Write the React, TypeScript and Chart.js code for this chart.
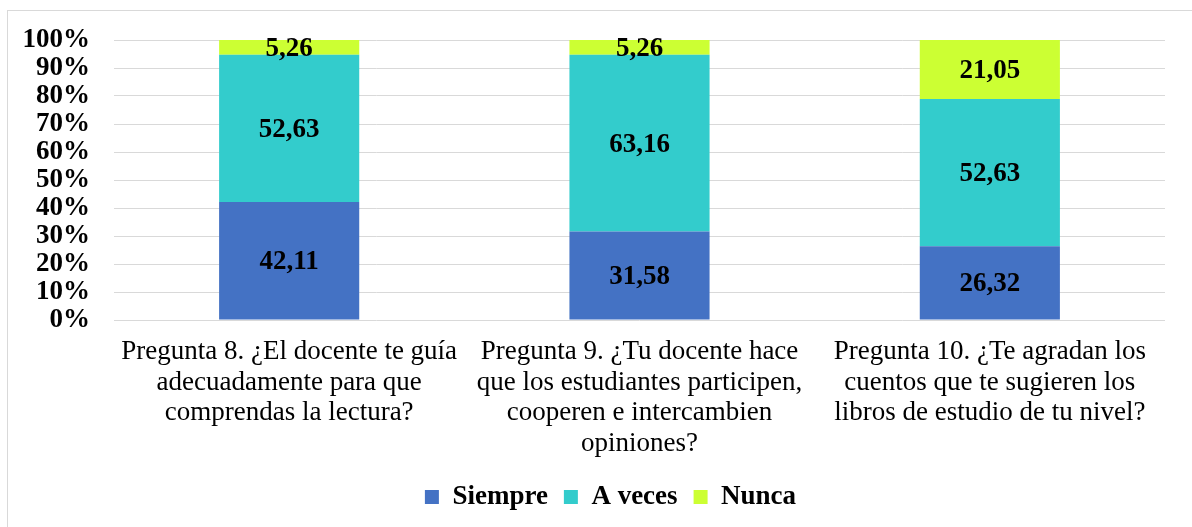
import React, { useEffect, useRef } from "react";
import { Chart, registerables } from "chart.js";

Chart.register(...registerables);

const categories: string[][] = [
  ["Pregunta 8. ¿El docente te guía", "adecuadamente para que", "comprendas la lectura?"],
  ["Pregunta 9. ¿Tu docente hace", "que los estudiantes participen,", "cooperen e intercambien", "opiniones?"],
  ["Pregunta 10. ¿Te agradan los", "cuentos que te sugieren los", "libros de estudio de tu nivel?"],
];
const siempre = [42.11, 31.58, 26.32];
const aVeces = [52.63, 63.16, 52.63];
const nunca = [5.26, 5.26, 21.05];
const seriesNames = ["Siempre", "A veces", "Nunca"];
const seriesColors = ["#4472C4", "#33CCCC", "#CCFF33"];

const FONT = "'Liberation Serif', 'Times New Roman', serif";

const valueLabels = {
  id: "valueLabels",
  afterDatasetsDraw(chart: any) {
    const ctx = chart.ctx;
    ctx.save();
    ctx.font = `bold 27px ${FONT}`;
    ctx.fillStyle = "#000";
    ctx.textAlign = "center";
    ctx.textBaseline = "middle";
    chart.data.datasets.forEach((ds: any, i: number) => {
      const meta = chart.getDatasetMeta(i);
      meta.data.forEach((bar: any, j: number) => {
        const v = ds.data[j] as number;
        const cy = (bar.y + bar.base) / 2;
        ctx.fillText(v.toFixed(2).replace(".", ","), bar.x, cy + 1.5);
      });
    });
    ctx.restore();
  },
};

// shift the legend so it is centred on the whole (wider) chart frame
const legendShift = {
  id: "legendShift",
  afterLayout(chart: any) {
    const lg = chart.legend;
    if (lg) {
      lg.left += 28;
      lg.right += 28;
    }
  },
};

export default function App() {
  const ref = useRef<HTMLCanvasElement | null>(null);
  useEffect(() => {
    if (!ref.current) return;
    const data = [siempre, aVeces, nunca];
    const chart = new Chart(ref.current, {
      type: "bar",
      data: {
        labels: categories as any,
        datasets: seriesNames.map((name, i) => ({
          label: name,
          data: data[i],
          backgroundColor: seriesColors[i],
          borderWidth: 0,
          categoryPercentage: 1,
          barPercentage: 0.4,
        })),
      },
      options: {
        animation: false,
        responsive: false,
        maintainAspectRatio: false,
        layout: { padding: { top: 40, left: 0, right: 27, bottom: 6.5 } },
        plugins: {
          tooltip: { enabled: false },
          legend: {
            position: "bottom",
            labels: {
              boxWidth: 14,
              boxHeight: 14,
              padding: 16,
              color: "#000",
              font: { family: FONT, size: 27, weight: "bold" },
            },
          },
        },
        scales: {
          x: {
            stacked: true,
            grid: { display: false, drawTicks: false },
            border: { display: false },
            ticks: {
              autoSkip: false,
              maxRotation: 0,
              minRotation: 0,
              padding: 17,
              color: "#000",
              font: { family: FONT, size: 27, lineHeight: 30.5 / 27 },
            },
            afterFit(scale: any) {
              scale.height = 147.5;
            },
          },
          y: {
            stacked: true,
            min: 0,
            max: 100,
            grid: { color: "#d9d9d9", lineWidth: 1, drawTicks: false },
            border: { display: false },
            ticks: {
              stepSize: 10,
              autoSkip: false,
              padding: 24,
              color: "#000",
              font: { family: FONT, size: 27, weight: "bold", lineHeight: 1 },
              callback: (v: any) => `${v}%`,
            },
            afterFit(scale: any) {
              scale.width = 114;
            },
          },
        },
      },
      plugins: [valueLabels, legendShift],
    } as any);
    return () => chart.destroy();
  }, []);

  return (
    <div
      style={{
        position: "fixed",
        left: 0,
        top: 0,
        width: 1192,
        height: 527,
        overflow: "hidden",
        background: "#fff",
      }}
    >
      <div
        style={{
          position: "absolute",
          left: 7,
          top: 10,
          width: 1210,
          height: 540,
          border: "1.5px solid #d9d9d9",
          boxSizing: "border-box",
        }}
      />
      <canvas
        ref={ref}
        width={1192}
        height={527}
        style={{ position: "absolute", left: 0, top: 0, width: 1192, height: 527 }}
      />
    </div>
  );
}
